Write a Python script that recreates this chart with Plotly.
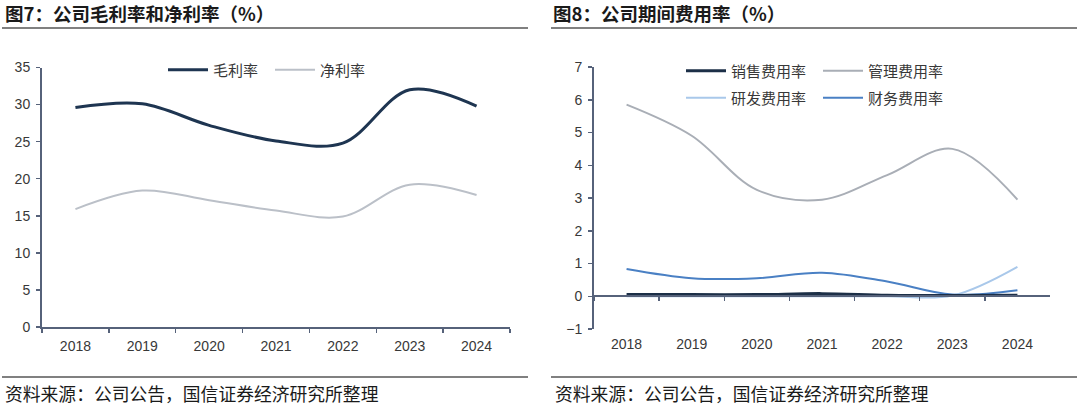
import plotly.graph_objects as go

years = ["2018", "2019", "2020", "2021", "2022", "2023", "2024"]
gross_margin = [29.6, 30.1, 27.2, 25.1, 24.8, 32.0, 29.8]
net_margin = [15.9, 18.4, 17.1, 15.7, 14.9, 19.2, 17.8]

sales_exp = [0.05, 0.05, 0.05, 0.08, 0.03, 0.02, 0.03]
admin_exp = [5.85, 4.9, 3.25, 2.95, 3.7, 4.5, 2.95]
rd_exp = [0.0, 0.0, 0.0, 0.0, 0.0, 0.02, 0.9]
fin_exp = [0.83, 0.55, 0.55, 0.72, 0.45, 0.05, 0.18]

W, H = 1080, 407
def px(x): return x / W
def py(y): return (H - y) / H

CJK = "Noto Sans CJK SC"
NUM = "Liberation Sans"
AX = "#56627a"
TXT = "#383838"

fig = go.Figure()

# Left chart
fig.add_trace(go.Scatter(x=years, y=gross_margin, name="毛利率", mode="lines",
                         line=dict(color="#1e3551", width=3, shape="spline"),
                         xaxis="x", yaxis="y", legend="legend"))
fig.add_trace(go.Scatter(x=years, y=net_margin, name="净利率", mode="lines",
                         line=dict(color="#bbc0c8", width=2, shape="spline"),
                         xaxis="x", yaxis="y", legend="legend"))

# Right chart
fig.add_trace(go.Scatter(x=years, y=rd_exp, name="研发费用率", mode="lines",
                         line=dict(color="#a9c8ea", width=2, shape="spline"),
                         xaxis="x2", yaxis="y2", legend="legend3"))
fig.add_trace(go.Scatter(x=years, y=fin_exp, name="财务费用率", mode="lines",
                         line=dict(color="#4a80c4", width=2, shape="spline"),
                         xaxis="x2", yaxis="y2", legend="legend3"))
fig.add_trace(go.Scatter(x=years, y=admin_exp, name="管理费用率", mode="lines",
                         line=dict(color="#a9aeb6", width=2, shape="spline"),
                         xaxis="x2", yaxis="y2", legend="legend2"))
fig.add_trace(go.Scatter(x=years, y=sales_exp, name="销售费用率", mode="lines",
                         line=dict(color="#1c2f47", width=3, shape="spline"),
                         xaxis="x3", yaxis="y2", legend="legend2"))

tickfont = dict(family=NUM, size=14, color=TXT)
xcommon = dict(type="category", categoryarray=years, categoryorder="array",
               range=[-0.5, 6.5], tickfont=tickfont, showgrid=False, zeroline=False,
               fixedrange=True, automargin=False)

legfont = dict(family=CJK, size=15, color=TXT)

fig.update_layout(
    template="none",
    width=W, height=H,
    margin=dict(l=0, r=0, t=0, b=0, pad=0, autoexpand=False),
    paper_bgcolor="white", plot_bgcolor="white",
    xaxis=dict(domain=[px(42), px(510)], anchor="y", showline=True, linecolor=AX,
               linewidth=2, ticks="outside", tickson="boundaries", ticklen=4,
               tickwidth=1.5, tickcolor=AX, ticklabelstandoff=5, **xcommon),
    yaxis=dict(domain=[py(327), py(67.5)], anchor="x", range=[0, 35], dtick=5,
               showline=True, linecolor=AX, linewidth=2, ticks="outside", ticklen=4,
               tickwidth=1.5, tickcolor=AX, showgrid=False, zeroline=False, tickfont=tickfont,
               ticklabelstandoff=3, automargin=False, fixedrange=True),
    xaxis2=dict(domain=[px(594), px(1050)], anchor="y2", showline=False, ticks="",
                ticklabelstandoff=5, **xcommon),
    xaxis3=dict(domain=[px(594), px(1050)], overlaying="x2", anchor="free",
                position=py(296), showline=True, linecolor=AX, linewidth=2,
                ticks="outside", tickson="boundaries", ticklen=4, tickwidth=1.5, tickcolor=AX,
                showticklabels=False, **xcommon),
    yaxis2=dict(domain=[py(329), py(67)], anchor="x2", range=[-1, 7], dtick=1,
                showline=True, linecolor=AX, linewidth=2, ticks="outside", ticklen=4,
                tickwidth=1.5, tickcolor=AX, showgrid=False, zeroline=False, tickfont=tickfont,
                ticklabelstandoff=3, automargin=False, fixedrange=True),
    legend=dict(orientation="h", x=px(163), y=py(70), xanchor="left", yanchor="middle",
                font=legfont, itemwidth=40, bgcolor="rgba(0,0,0,0)", traceorder="normal",
                entrywidth=52),
    legend2=dict(orientation="h", x=px(681), y=py(71), xanchor="left", yanchor="middle",
                 font=legfont, itemwidth=40, bgcolor="rgba(0,0,0,0)", traceorder="reversed",
                 entrywidth=82),
    legend3=dict(orientation="h", x=px(681), y=py(98), xanchor="left", yanchor="middle",
                 font=legfont, itemwidth=40, bgcolor="rgba(0,0,0,0)", traceorder="normal",
                 entrywidth=82),
    showlegend=True,
)

title_font = dict(family=CJK, size=18.5, color="#1a1a1a", weight="bold")
fig.add_annotation(text="图7：公司毛利率和净利率（%）", x=px(3), y=py(13), xref="paper", yref="paper",
                   xanchor="left", yanchor="middle", showarrow=False, font=title_font)
fig.add_annotation(text="图8：公司期间费用率（%）", x=px(551), y=py(13), xref="paper", yref="paper",
                   xanchor="left", yanchor="middle", showarrow=False, font=title_font)

src_font = dict(family=CJK, size=17.8, color="#1a1a1a")
fig.add_annotation(text="资料来源：公司公告，国信证券经济研究所整理", x=px(3), y=py(393), xref="paper",
                   yref="paper", xanchor="left", yanchor="middle", showarrow=False, font=src_font)
fig.add_annotation(text="资料来源：公司公告，国信证券经济研究所整理", x=px(553), y=py(393), xref="paper",
                   yref="paper", xanchor="left", yanchor="middle", showarrow=False, font=src_font)

for x0, x1 in [(2, 528), (551, 1077)]:
    fig.add_shape(type="line", xref="paper", yref="paper", x0=px(x0), x1=px(x1),
                  y0=py(28), y1=py(28), line=dict(color="#808080", width=2))
    fig.add_shape(type="line", xref="paper", yref="paper", x0=px(x0), x1=px(x1),
                  y0=py(377), y1=py(377), line=dict(color="#808080", width=2))

fig.write_html("out.html", config={"displayModeBar": False, "staticPlot": True},
               post_script="document.body.style.margin='0';document.body.style.overflow='hidden';")
